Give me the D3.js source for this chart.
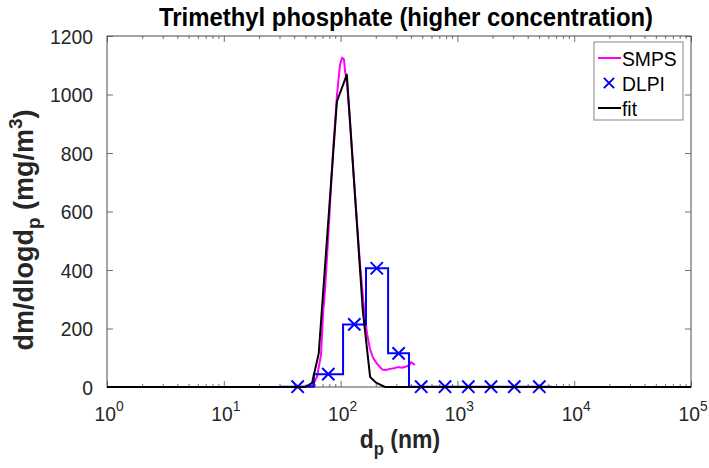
<!DOCTYPE html>
<html>
<head>
<meta charset="utf-8">
<script src="https://cdn.jsdelivr.net/npm/d3@7"></script>
<style>
  body { margin: 0; background: #fff; }
  svg { font-family: "Liberation Sans", Arial, sans-serif; }
</style>
</head>
<body>
<div id="chart"></div>
<script>
// SMPS size distribution (diameter nm, dm/dlogdp)
var smpsDp = [44.9, 52.6, 58.0, 62.8, 68.0, 70.7, 73.5, 78.0, 86.1, 93.2, 98.8, 102.8, 106.9, 109.1, 113.4,
  120.3, 132.8, 146.6, 158.6, 168.3, 178.5, 189.4, 204.9, 226.2, 244.8, 264.8, 286.6, 310.0, 335.6, 363.1,
  385.1, 400.6, 416.8, 433.5];
var smpsVal = [0, 3, 7, 35, 110, 250, 330, 500, 806, 1000, 1100, 1126, 1120, 1080, 1040,
  911, 660, 420, 270, 183, 130, 100, 80, 60, 58, 62, 64, 68, 66, 70,
  74, 85, 80, 75];

// DLPI stages: bin edges, values and stage midpoints
var dlpiEdges = [30, 59, 105, 165, 255, 385, 620, 1000, 1580, 2450, 3900, 6500];
var dlpiVal = [1, 44, 214, 406, 115, 1, 1, 1, 1, 1, 1];
var dlpiDp = [42.9, 78.5, 131, 204, 314, 490, 783, 1240, 1940, 3070, 5025];

// fitted distribution
var fitDp = [1, 50, 57, 65, 93, 113, 155, 179, 201, 240, 100000];
var fitVal = [0, 0, 14, 115, 976, 1068, 260, 34, 15, 0, 0];

var xMajor = [1, 10, 100, 1000, 10000, 100000];
var yTicks = [0, 200, 400, 600, 800, 1000, 1200];

var W = 709, H = 468;
var m = {left: 107, right: 691, top: 36, bottom: 387};
var sq = 0.92; // horizontal squeeze of the original figure's text

var svg = d3.select("#chart").append("svg")
  .attr("width", W).attr("height", H);

var x = d3.scaleLog().domain([1, 100000]).range([m.left, m.right]);
var y = d3.scaleLinear().domain([0, 1200]).range([m.bottom, m.top]);

var axisColor = "#4d4d4d";
var textColor = "#262626";

// minor ticks for log axis
var xMinor = [];
xMajor.slice(0, -1).forEach(function(d) {
  for (var k = 2; k <= 9; k++) xMinor.push(d * k);
});

// bottom + top axes (ticks inside)
svg.append("g").attr("transform", "translate(0," + m.bottom + ")")
  .call(d3.axisBottom(x).tickValues(xMajor).tickSize(-6).tickFormat(""));
svg.append("g").attr("transform", "translate(0," + m.bottom + ")")
  .call(d3.axisBottom(x).tickValues(xMinor).tickSize(-3).tickFormat(""));
svg.append("g").attr("transform", "translate(0," + m.top + ")")
  .call(d3.axisTop(x).tickValues(xMajor).tickSize(-6).tickFormat(""));
svg.append("g").attr("transform", "translate(0," + m.top + ")")
  .call(d3.axisTop(x).tickValues(xMinor).tickSize(-3).tickFormat(""));
svg.append("g").attr("transform", "translate(" + m.left + ",0)")
  .call(d3.axisLeft(y).tickValues(yTicks).tickSize(-6).tickFormat(""));
svg.append("g").attr("transform", "translate(" + m.right + ",0)")
  .call(d3.axisRight(y).tickValues(yTicks).tickSize(-6).tickFormat(""));

svg.selectAll(".domain").remove();
svg.selectAll(".tick line").attr("stroke", axisColor).attr("stroke-width", 0.8);

// box
svg.append("rect")
  .attr("x", m.left).attr("y", m.top)
  .attr("width", m.right - m.left).attr("height", m.bottom - m.top)
  .attr("fill", "none").attr("stroke", axisColor).attr("stroke-width", 1);

function at(px, py) { return "translate(" + px + "," + py + ") scale(" + sq + ",1)"; }

// y tick labels
svg.selectAll(".ylab").data(yTicks).enter().append("text")
  .attr("transform", function(d) { return at(m.left - 14, y(d)); })
  .attr("dy", "0.36em")
  .attr("text-anchor", "end")
  .attr("font-size", 21)
  .attr("fill", textColor)
  .text(function(d) { return d; });

// x tick labels 10^k
var xl = svg.selectAll(".xlab").data(xMajor).enter().append("text")
  .attr("transform", function(d) { return at(x(d) + 2, 421); })
  .attr("text-anchor", "middle")
  .attr("font-size", 21)
  .attr("fill", textColor);
xl.append("tspan").text("10");
xl.append("tspan").attr("font-size", 15).attr("dy", -10)
  .text(function(d) { return Math.round(Math.log10(d)); });

// SMPS
var line = d3.line()
  .x(function(d) { return x(d[0]); })
  .y(function(d) { return y(d[1]); });

svg.append("path")
  .attr("d", line(d3.zip(smpsDp, smpsVal)))
  .attr("fill", "none").attr("stroke", "#ff00ff").attr("stroke-width", 2)
  .attr("stroke-linejoin", "round");

// DLPI stairs
var stairs = [];
dlpiVal.forEach(function(v, i) {
  stairs.push([dlpiEdges[i], v]);
  stairs.push([dlpiEdges[i + 1], v]);
});
svg.append("path")
  .attr("d", line(stairs))
  .attr("fill", "none").attr("stroke", "#0000ff").attr("stroke-width", 2);

// DLPI markers
var cross = d3.symbol().type(d3.symbolX).size(100);
svg.selectAll(".mk").data(d3.zip(dlpiDp, dlpiVal)).enter().append("path")
  .attr("d", cross)
  .attr("transform", function(d) { return "translate(" + x(d[0]) + "," + y(d[1]) + ")"; })
  .attr("fill", "none").attr("stroke", "#0000ff").attr("stroke-width", 2);

// fit
svg.append("path")
  .attr("d", line(d3.zip(fitDp, fitVal)))
  .attr("fill", "none").attr("stroke", "#000").attr("stroke-width", 2)
  .attr("stroke-linejoin", "round");

// title
svg.append("text")
  .attr("transform", at(406, 26))
  .attr("text-anchor", "middle")
  .attr("font-size", 26).attr("font-weight", "bold").attr("fill", "#000")
  .text("Trimethyl phosphate (higher concentration)");

// x label
var xt = svg.append("text")
  .attr("transform", at(400, 448))
  .attr("text-anchor", "middle")
  .attr("font-size", 25).attr("font-weight", "bold").attr("fill", textColor);
xt.append("tspan").text("d");
xt.append("tspan").attr("font-size", 18).attr("dy", 7).text("p");
xt.append("tspan").attr("dy", -7).text(" (nm)");

// y label (vertical, so not squeezed)
var yt = svg.append("text")
  .attr("transform", "translate(33,230) rotate(-90)")
  .attr("text-anchor", "middle")
  .attr("font-size", 27).attr("font-weight", "bold").attr("fill", textColor);
yt.append("tspan").text("dm/dlogd");
yt.append("tspan").attr("font-size", 19).attr("dy", 7).text("p");
yt.append("tspan").attr("dy", -7).text(" (mg/m");
yt.append("tspan").attr("font-size", 19).attr("dy", -11).text("3");
yt.append("tspan").attr("dy", 11).text(")");

// legend
var lg = svg.append("g").attr("transform", "translate(594,42)");
lg.append("rect").attr("width", 89).attr("height", 78)
  .attr("fill", "#fff").attr("stroke", "#888").attr("stroke-width", 1);
var items = [
  {name: "SMPS", color: "#ff00ff", type: "line"},
  {name: "DLPI", color: "#0000ff", type: "mark"},
  {name: "fit", color: "#000", type: "line"}
];
var legCross = d3.symbol().type(d3.symbolX).size(70);
items.forEach(function(it, i) {
  var yy = 16 + i * 25;
  if (it.type === "line") {
    lg.append("line").attr("x1", 4).attr("x2", 27).attr("y1", yy).attr("y2", yy)
      .attr("stroke", it.color).attr("stroke-width", 2);
  } else {
    lg.append("path").attr("d", legCross)
      .attr("transform", "translate(15," + yy + ")")
      .attr("fill", "none").attr("stroke", it.color).attr("stroke-width", 2);
  }
  lg.append("text").attr("transform", at(28, yy)).attr("dy", "0.36em")
    .attr("font-size", 21).attr("fill", "#000").text(it.name);
});
</script>
</body>
</html>
